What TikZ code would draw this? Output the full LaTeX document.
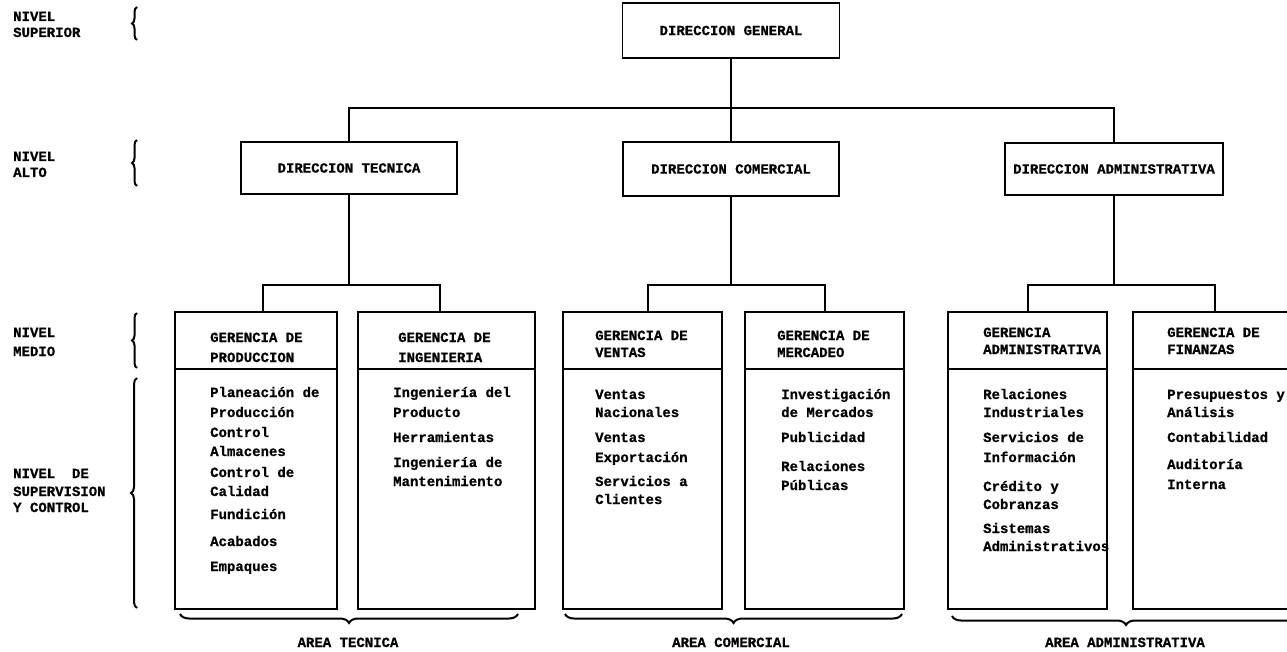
\documentclass[tikz,border=0pt]{standalone}
\usepackage{fontspec}
\newfontfamily\tw{Liberation Mono}[BoldFeatures={FakeBold=0.8}]
\usetikzlibrary{decorations.pathreplacing,calc}
\begin{document}
\begin{tikzpicture}[x=1pt,y=-1pt,
  txt/.style={font=\tw\bfseries\fontsize{14}{17}\selectfont, inner sep=0pt},
  lbl/.style={txt, anchor=base west},
  box/.style={draw, line width=1.8pt, inner sep=0pt},
  gbox/.style={box, anchor=north west, minimum height=297},
  conn/.style={line width=1.5pt},
  brc/.style={line width=2pt, decorate, decoration={brace, amplitude=#1}},
]
\useasboundingbox (0,0) rectangle (1287,652);

% ---- level labels
\node[lbl] (ns1) at (13,21) {NIVEL};
\node[lbl] (ns2) at (13,37) {SUPERIOR};
\node[lbl] (na1) at (13,161) {NIVEL};
\node[lbl] (na2) at (13,177) {ALTO};
\node[lbl] (nm1) at (13,337) {NIVEL};
\node[lbl] (nm2) at (13,356) {MEDIO};
\node[lbl] (nc1) at (13,478) {NIVEL\ \ DE};
\node[lbl] (nc2) at (13,496) {SUPERVISION};
\node[lbl] (nc3) at (13,512) {Y CONTROL};

\coordinate (bs1) at (137,40); \coordinate (bs2) at (137,7);
\coordinate (ba1) at (137,186); \coordinate (ba2) at (137,140);
\coordinate (bm1) at (137,368); \coordinate (bm2) at (137,313);
\coordinate (bc1) at (137,608); \coordinate (bc2) at (137,378);
\draw[brc=5pt] (bs1) -- (bs2);
\draw[brc=5pt] (ba1) -- (ba2);
\draw[brc=5pt] (bm1) -- (bm2);
\draw[brc=6pt] (bc1) -- (bc2);

% ---- top and level 2
\node[box, txt, minimum width=217, minimum height=55] (dg) at (731,30.5) {DIRECCION GENERAL};
\node[box, txt, minimum width=216, minimum height=52] (dt) at (349,168) {DIRECCION TECNICA};
\node[box, txt, minimum width=216, minimum height=54] (dc) at (731,169) {DIRECCION COMERCIAL};
\node[box, txt, minimum width=218, minimum height=52] (da) at (1114,169) {DIRECCION ADMINISTRATIVA};

\coordinate (top) at (731,108);
\draw[conn] (dg.south) -- (dc.north);
\draw[conn] (dt.north) -- (dt.north |- top) -- (da.north |- top) -- (da.north);

% ---- level 3 boxes
\node[gbox, minimum width=162] (prod) at (174,311) {};
\node[gbox, minimum width=177] (ing) at (357,311) {};
\node[gbox, minimum width=159] (ven) at (562,311) {};
\node[gbox, minimum width=159] (mer) at (744,311) {};
\node[gbox, minimum width=159] (gad) at (947,311) {};
\node[gbox, minimum width=168] (fin) at (1132,311) {};
\foreach \b in {prod,ing,ven,mer,gad,fin}
  \draw[line width=1.8pt] ($(\b.north west)+(0,58)$) -- ($(\b.north east)+(0,58)$);

% ---- connectors level 2 -> 3
\coordinate (tL) at (263,285); \coordinate (tR) at (440,285);
\coordinate (cL) at (648,285); \coordinate (cR) at (825,285);
\coordinate (aL) at (1028,285); \coordinate (aR) at (1215,285);
\draw[conn] (dt.south) -- (dt.south |- tL);
\draw[conn] (dc.south) -- (dc.south |- cL);
\draw[conn] (da.south) -- (da.south |- aL);
\draw[conn] (tL |- prod.north) -- (tL) -- (tR) -- (tR |- ing.north);
\draw[conn] (cL |- ven.north) -- (cL) -- (cR) -- (cR |- mer.north);
\draw[conn] (aL |- gad.north) -- (aL) -- (aR) -- (aR |- fin.north);

% ---- headers
\node[lbl] (h11) at (210,342) {GERENCIA DE};
\node[lbl] (h12) at (210,362) {PRODUCCION};
\node[lbl] (h21) at (398,342) {GERENCIA DE};
\node[lbl] (h22) at (398,362) {INGENIERIA};
\node[lbl] (h31) at (595,340) {GERENCIA DE};
\node[lbl] (h32) at (595,357) {VENTAS};
\node[lbl] (h41) at (777,340) {GERENCIA DE};
\node[lbl] (h42) at (777,357) {MERCADEO};
\node[lbl] (h51) at (983,337) {GERENCIA};
\node[lbl] (h52) at (983,354) {ADMINISTRATIVA};
\node[lbl] (h61) at (1167,337) {GERENCIA DE};
\node[lbl] (h62) at (1167,354) {FINANZAS};

% ---- items
\foreach \yy/\tx [count=\i] in {397/Planeación de, 417/Producción, 437/Control, 456/Almacenes,
  477/Control de, 496/Calidad, 519/Fundición, 546/Acabados, 571/Empaques}
  \node[lbl] (pa\i) at (210,\yy) {\tx};
\foreach \yy/\tx [count=\i] in {397/Ingeniería del, 417/Producto, 442/Herramientas,
  467/Ingeniería de, 486/Mantenimiento}
  \node[lbl] (pb\i) at (393,\yy) {\tx};
\foreach \yy/\tx [count=\i] in {399/Ventas, 417/Nacionales, 442/Ventas, 462/Exportación,
  486/Servicios a, 504/Clientes}
  \node[lbl] (pc\i) at (595,\yy) {\tx};
\foreach \yy/\tx [count=\i] in {399/Investigación, 417/de Mercados, 442/Publicidad,
  471/Relaciones, 490/Públicas}
  \node[lbl] (pd\i) at (781,\yy) {\tx};
\foreach \yy/\tx [count=\i] in {399/Relaciones, 417/Industriales, 442/Servicios de,
  462/Información, 491/Crédito y, 509/Cobranzas, 533/Sistemas, 551/Administrativos}
  \node[lbl] (pe\i) at (983,\yy) {\tx};
\foreach \yy/\tx [count=\i] in {399/Presupuestos y, 417/Análisis, 442/Contabilidad,
  469/Auditoría, 489/Interna}
  \node[lbl] (pf\i) at (1167,\yy) {\tx};

% ---- area braces
\coordinate (at1) at (518,614); \coordinate (at2) at (180,614);
\coordinate (ac1) at (902,614); \coordinate (ac2) at (565,614);
\coordinate (aa1) at (1300,616); \coordinate (aa2) at (952,616);
\draw[brc=9pt] (at1) -- (at2);
\draw[brc=9pt] (ac1) -- (ac2);
\draw[brc=9pt] (aa1) -- (aa2);
\node[txt, anchor=base] (art) at (348,647) {AREA TECNICA};
\node[txt, anchor=base] (arc) at (731,647) {AREA COMERCIAL};
\node[txt, anchor=base] (ara) at (1125,647) {AREA ADMINISTRATIVA};
\end{tikzpicture}
\end{document}
